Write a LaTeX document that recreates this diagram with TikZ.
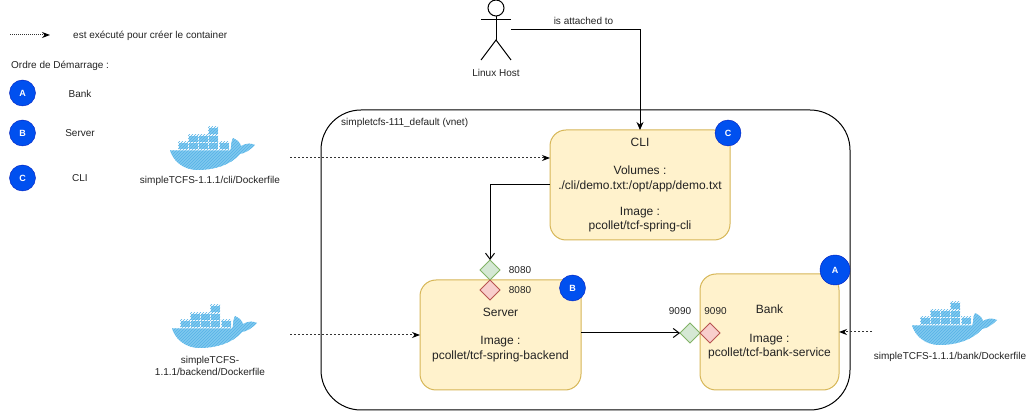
\documentclass[tikz,border=0pt]{standalone}
\usepackage{fontspec}
\setmainfont{Liberation Sans}
\usetikzlibrary{arrows.meta, positioning, shapes.geometric, patterns, calc}
\definecolor{boxfill}{HTML}{FFF2CC}
\definecolor{boxline}{HTML}{D6B656}
\definecolor{inlinefill}{HTML}{D5E8D4}
\definecolor{inlineline}{HTML}{82B366}
\definecolor{outfill}{HTML}{F8CECC}
\definecolor{outline}{HTML}{B85450}
\definecolor{badgefill}{HTML}{0050EF}
\definecolor{badgeline}{HTML}{001DBC}
\definecolor{whaleblue}{HTML}{7FC8EF}
\definecolor{whalehatch}{HTML}{55B2E6}
\definecolor{txt}{HTML}{222222}
\tikzset{
	servicebox/.style={draw=boxline, fill=boxfill, rounded corners=16pt, line width=1pt, align=center, inner sep=0pt, outer sep=0pt, text=txt, font=\fontsize{12}{14.4}\selectfont, execute at begin node=\rule{0pt}{16pt}},
	badge/.style={circle, draw=badgeline, fill=badgefill, text=white, inner sep=0pt, minimum size=26pt, font=\fontsize{9}{11}\selectfont\bfseries},
	porttag/.style={diamond, draw=#1line, fill=#1fill, line width=1pt, inner sep=0pt, outer sep=0pt, minimum width=20pt, minimum height=20pt},
	small/.style={text=txt, inner sep=0pt, align=center, font=\fontsize{10}{12}\selectfont},
	exec/.style={dash pattern=on 2pt off 2pt, line width=1pt, draw=black!80, -{Stealth[length=8pt,width=6pt,black]}},
	link/.style={line width=1pt, -{Straight Barb[length=6pt,width=9pt]}},
	pics/dockerwhale/.style={code={
		\foreach \cx/\cy in {38/0, 18/8, 28/8, 38/8, 8/15, 18/15, 28/15, 38/15, 49/15}
			\path[fill=whaleblue, draw=white, line width=0.5pt, postaction={pattern=north east lines, pattern color=whalehatch}] (\cx, \cy) rectangle ++(10, 7.5);
		\path[fill=whaleblue, postaction={pattern=north east lines, pattern color=whalehatch}]
			(0, 23.5) -- (60, 23.5) .. controls (62, 21) and (60, 16) .. (63, 11)
			.. controls (67, 13) and (70, 15) .. (71, 19) .. controls (76, 16) and (81, 16) .. (85, 18)
			.. controls (79, 24) and (75, 26) .. (70, 27) .. controls (60, 39) and (42, 43) .. (28, 43)
			.. controls (12, 43) and (3, 33) .. (0, 23.5) -- cycle;
	}}
}
\begin{document}
\begin{tikzpicture}[x=1pt, y=-1pt]
	\useasboundingbox (0, 0) rectangle (1031, 411);
	% legend
	\coordinate (legendfrom) at (10, 35);
	\coordinate (legendto) at (50, 35);
	\draw[exec, dash pattern=on 1pt off 1pt] (legendfrom) -- (legendto);
	\node[small, anchor=west] (legendtext) at (73, 35.5) {est exécuté pour créer le container};
	\node[small, anchor=west] (order) at (11, 66) {Ordre de Démarrage :};
	\node[badge] (orderA) at (22.5, 93) {A};
	\node[badge] (orderB) at (22.5, 133) {B};
	\node[badge] (orderC) at (22.5, 178) {C};
	\node[small] (orderBank) at (80, 93.5) {Bank};
	\node[small] (orderServer) at (80, 133.5) {Server};
	\node[small] (orderCli) at (80, 178.5) {CLI};

	% network
	\node[draw, rounded corners=40pt, line width=1pt, minimum width=529pt, minimum height=300pt, inner sep=0pt, outer sep=0pt, anchor=north west] (vnet) at (321, 110) {};
	\node[small, anchor=west] (vnetlabel) at (341, 123) {simpletcfs-111\_default (vnet)};

	% services
	\node[servicebox, minimum width=180pt, minimum height=110pt] (cli) at (640, 185) {CLI\\[14pt]Volumes :\\./cli/demo.txt:/opt/app/demo.txt\\[11.5pt]Image :\\pcollet/tcf-spring-cli};
	\node[servicebox, minimum width=161pt, minimum height=110pt] (server) at (500.5, 335) {Server\\[14pt]Image :\\pcollet/tcf-spring-backend};
	\node[servicebox, minimum width=139pt, minimum height=116pt] (bank) at (769.5, 332) {Bank\\[14pt]Image :\\pcollet/tcf-bank-service};

	\node[badge] (badgeC) at (728, 133) {C};
	\node[badge] (badgeB) at (572.5, 288) {B};
	\node[badge, minimum size=30pt] (badgeA) at (835, 270) {A};

	% ports
	\node[porttag=inline] (serverin) at (490, 270) {};
	\node[porttag=out] (serverout) at (490, 290) {};
	\node[porttag=inline] (bankin) at (690, 333) {};
	\node[porttag=out] (bankout) at (710, 333) {};
	\node[small] (serverinlabel) at (520, 270.5) {8080};
	\node[small] (serveroutlabel) at (520, 290.5) {8080};
	\node[small] (bankinlabel) at (680, 311) {9090};
	\node[small] (bankoutlabel) at (715.5, 311) {9090};

	% host
	\node[inner sep=0pt, outer sep=0pt, minimum width=30pt, minimum height=60pt] (host) at (496, 30) {};
	\draw[line width=1pt] (496, 8) circle (8);
	\draw[line width=1pt] (496, 16) -- (496, 40) (host.west |- 0, 20) -- (host.east |- 0, 20);
	\draw[line width=1pt] (host.south west) -- (496, 40) -- (host.south east);
	\node[small] (hostlabel) at (496, 72.5) {Linux Host};
	\draw[-{Stealth[length=8pt,width=7pt]}, line width=1pt] (host.east) -| (cli.north);
	\node[small] (attachlabel) at (583.5, 21) {is attached to};

	% dockerfiles
	\pic at (170, 127) {dockerwhale};
	\pic at (172, 305) {dockerwhale};
	\pic at (912, 302) {dockerwhale};
	\node[small] (clifile) at (210, 181) {simpleTCFS-1.1.1/cli/Dockerfile};
	\node[small] (backendfile) at (210, 366) {simpleTCFS-\\1.1.1/backend/Dockerfile};
	\node[small] (bankfile) at (950, 356.5) {simpleTCFS-1.1.1/bank/Dockerfile};
	\coordinate (clisource) at (290, 158);
	\coordinate (backendsource) at (290, 335);
	\coordinate (banksource) at (872, 332);
	\draw[exec] (clisource) -- (cli.west |- clisource);
	\draw[exec] (backendsource) -- (server.west);
	\draw[exec] (banksource) -- (bank.east);

	% links
	\draw[link] (cli.west) -| (serverin.north);
	\draw[link] (server.east |- bankin.west) -- (bankin.west);
\end{tikzpicture}
\end{document}
